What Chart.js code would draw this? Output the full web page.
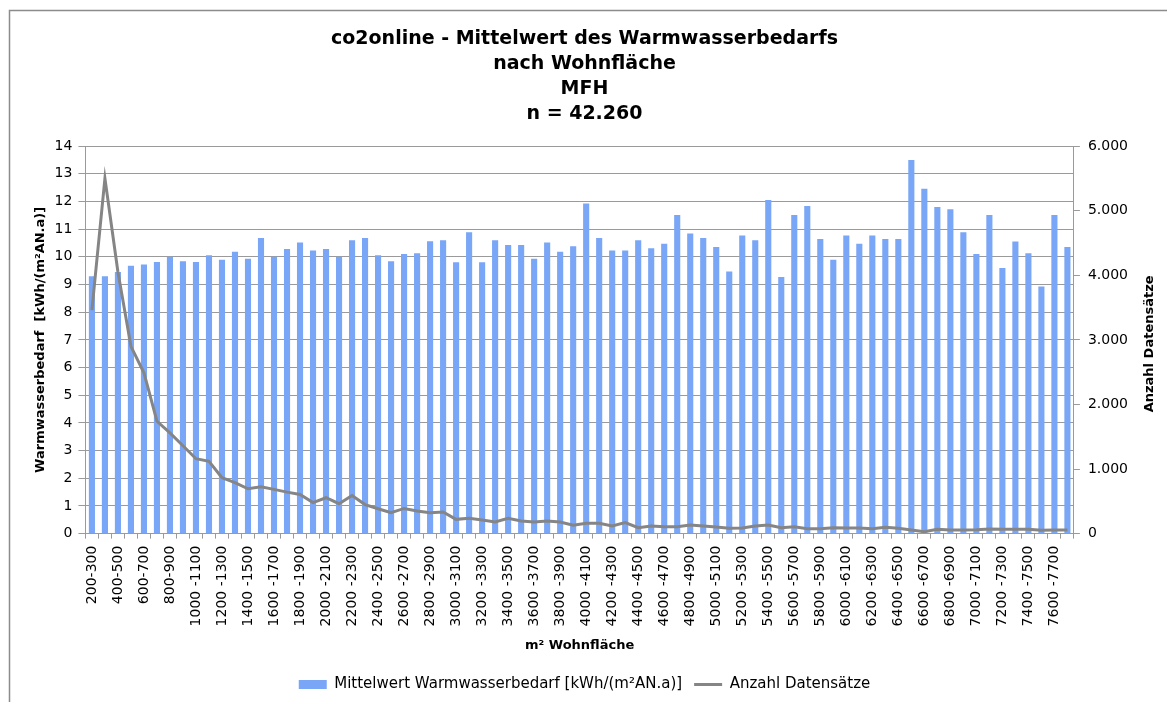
<!DOCTYPE html>
<html>
<head>
<meta charset="utf-8">
<script src="https://cdn.jsdelivr.net/npm/chart.js@4.4.0/dist/chart.umd.min.js"></script>
<style>
  html, body { margin: 0; background: #fff; overflow: hidden; }
  #wrap { width: 1167px; height: 702px; }
  canvas { display: block; }
</style>
</head>
<body>
<div id="wrap"><canvas id="chart" width="1167" height="702"></canvas></div>
<script>
'use strict';

// m² Wohnfläche classes, 200-300 ... 7700-7800 (Excel shows "1000 -1100")
let flaechen = [];
for (let s = 200; s <= 7700; s += 100) {
  flaechen.push(s >= 1000 ? s + ' -' + (s + 100) : s + '-' + (s + 100));
}

// Mittelwert Warmwasserbedarf [kWh/(m²AN.a)]
let mittelwert = [
  9.30, 9.30, 9.45, 9.68, 9.72, 9.81, 10.00, 9.84, 9.81, 10.06,
  9.89, 10.18, 9.93, 10.68, 10.00, 10.28, 10.52, 10.23, 10.28, 10.00,
  10.60, 10.68, 10.06, 9.84, 10.10, 10.13, 10.56, 10.60, 9.80, 10.89,
  9.80, 10.60, 10.43, 10.43, 9.93, 10.52, 10.18, 10.38, 11.93, 10.68,
  10.23, 10.23, 10.60, 10.31, 10.47, 11.51, 10.84, 10.68, 10.35, 9.47,
  10.77, 10.60, 12.05, 9.27, 11.51, 11.84, 10.64, 9.89, 10.77, 10.47,
  10.77, 10.64, 10.64, 13.50, 12.46, 11.80, 11.72, 10.89, 10.10, 11.51,
  9.60, 10.55, 10.13, 8.93, 11.51, 10.35
];

// Anzahl Datensätze
let anzahl = [
  3460, 5500, 4050, 2900, 2490, 1740, 1560, 1360, 1160, 1120,
  865, 790, 695, 725, 685, 643, 607, 480, 556, 463,
  590, 450, 386, 324, 390, 350, 324, 334, 221, 237,
  211, 180, 237, 196, 180, 196, 180, 129, 160, 160,
  118, 170, 93, 118, 108, 108, 134, 118, 103, 82,
  87, 118, 134, 93, 108, 77, 77, 93, 87, 87,
  77, 98, 82, 57, 31, 67, 57, 57, 62, 72,
  67, 67, 67, 51, 57, 57
];

let titelZeilen = ['co2online - Mittelwert des Warmwasserbedarfs', 'nach Wohnfläche', 'MFH', 'n = 42.260'];

let grau = '#9a9a9a';
let schrift = 'DejaVu Sans';

// frame line top/left and the right axis title (reads bottom to top)
let extras = {
  id: 'extras',
  afterDraw(chart) {
    let ctx = chart.ctx;
    let area = chart.chartArea;
    ctx.save();
    ctx.strokeStyle = '#8c8c8c';
    ctx.lineWidth = 1.5;
    ctx.beginPath();
    ctx.moveTo(9.5, 702);
    ctx.lineTo(9.5, 10.5);
    ctx.lineTo(1167, 10.5);
    ctx.stroke();

    ctx.translate(1150, (area.top + area.bottom) / 2 + 4);
    ctx.rotate(-Math.PI / 2);
    ctx.fillStyle = '#000';
    ctx.font = 'bold 13px ' + schrift;
    ctx.textAlign = 'center';
    ctx.textBaseline = 'middle';
    ctx.fillText('Anzahl Datensätze', 0, 0);
    ctx.restore();
  }
};

let context = document.getElementById('chart').getContext('2d');
let chart = new Chart(context, {
  data: {
    labels: flaechen,
    datasets: [{
      type: 'bar',
      label: 'Mittelwert Warmwasserbedarf [kWh/(m²AN.a)]',
      data: mittelwert,
      backgroundColor: '#79a6f6',
      borderWidth: 0,
      categoryPercentage: 1,
      barPercentage: 0.47,
      yAxisID: 'y',
      order: 1
    }, {
      type: 'line',
      label: 'Anzahl Datensätze',
      data: anzahl,
      borderColor: '#858585',
      backgroundColor: '#858585',
      borderWidth: 3,
      pointRadius: 0,
      tension: 0,
      yAxisID: 'y1',
      order: 0
    }]
  },
  options: {
    responsive: false,
    animation: false,
    layout: { padding: { left: 33, right: 31, top: 12, bottom: 0 } },
    plugins: {
      tooltip: { enabled: false },
      title: {
        display: true,
        text: titelZeilen,
        color: '#000',
        font: { family: schrift, size: 19, weight: 'bold', lineHeight: 1.33 },
        padding: { top: 14, bottom: 19 }
      },
      legend: {
        position: 'bottom',
        labels: {
          color: '#000',
          font: { family: schrift, size: 15 },
          usePointStyle: true,
          pointStyleWidth: 28,
          boxHeight: 9,
          padding: 12,
          sort: (a, b) => a.datasetIndex - b.datasetIndex,
          generateLabels(chart) {
            let items = Chart.defaults.plugins.legend.labels.generateLabels(chart);
            items.forEach(it => {
              it.pointStyle = it.datasetIndex === 0 ? 'rect' : 'line';
            });
            return items;
          }
        }
      }
    },
    scales: {
      x: {
        offset: true,
        grid: { drawOnChartArea: false, drawTicks: true, tickLength: 5, offset: true, color: grau },
        border: { color: grau },
        ticks: {
          autoSkip: false,
          maxRotation: 90,
          minRotation: 90,
          padding: 7,
          color: '#000',
          font: { family: schrift, size: 14 },
          callback: function (val, i) { return i % 2 === 0 ? this.getLabelForValue(val) : ''; }
        },
        title: {
          display: true,
          text: 'm² Wohnfläche',
          color: '#000',
          font: { family: schrift, size: 13, weight: 'bold' },
          padding: { top: 4, bottom: 12 }
        }
      },
      y: {
        position: 'left',
        min: 0,
        max: 14,
        ticks: { stepSize: 1, padding: 6, color: '#000', font: { family: schrift, size: 14 } },
        grid: { color: grau, tickLength: 7 },
        border: { color: grau },
        title: {
          display: true,
          text: 'Warmwasserbedarf  [kWh/(m²AN.a)]',
          color: '#000',
          font: { family: schrift, size: 13, weight: 'bold' },
          padding: { top: 0, bottom: 0 }
        }
      },
      y1: {
        position: 'right',
        min: 0,
        max: 6000,
        ticks: {
          stepSize: 1000,
          padding: 8,
          color: '#000',
          font: { family: schrift, size: 14 },
          callback: v => v.toLocaleString('de-DE')
        },
        grid: { drawOnChartArea: false, color: grau, tickLength: 6 },
        border: { color: grau }
      }
    }
  },
  plugins: [extras]
});
</script>
</body>
</html>
